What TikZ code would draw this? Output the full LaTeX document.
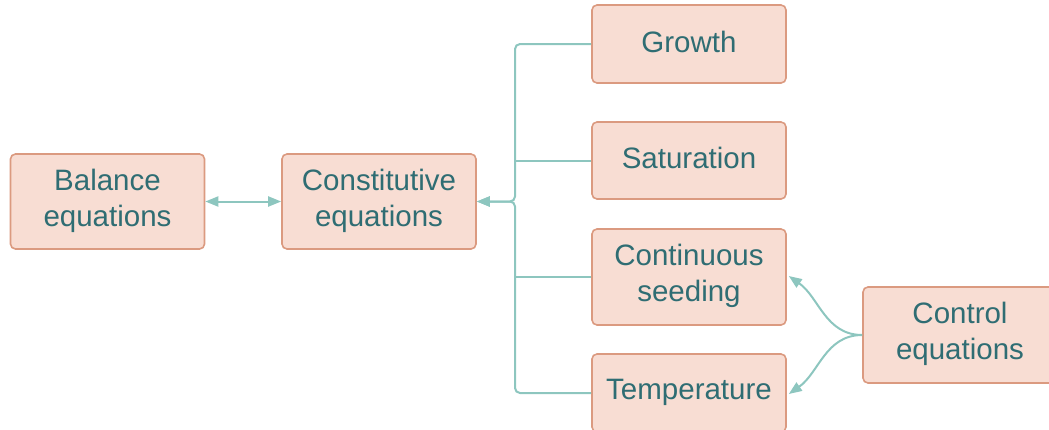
\documentclass[tikz,border=0pt]{standalone}
\usepackage{fontspec}
\setmainfont{Liberation Sans}
\usetikzlibrary{arrows.meta}
\definecolor{boxfill}{HTML}{F8DDD3}
\definecolor{boxline}{HTML}{DB9A80}
\definecolor{boxtext}{HTML}{2F6D73}
\definecolor{link}{HTML}{8DC6BF}
\tikzset{
  topic/.style={draw=boxline, fill=boxfill, line width=1.6pt, rounded corners=5pt,
    text=boxtext, align=center, minimum width=194pt, inner sep=0pt,
    font=\fontsize{29.5}{36}\selectfont},
  label/.style={text=boxtext, align=center, font=\fontsize{29.5}{36}\selectfont},
  link/.style={draw=link, line width=2pt},
  tip/.style={-{Triangle[length=13pt,width=10pt]}},
}
\begin{document}
\begin{tikzpicture}[x=1pt,y=-1pt]
\useasboundingbox (0,0) rectangle (1049,429);
\clip (0,0) rectangle (1049,429);
\node[topic, minimum height=95pt] (bal) at (107.5,201.5) {};
\node[label] at (107.5,201) {Balance\\equations};
\node[topic, minimum height=95pt] (con) at (379,201.5) {};
\node[label] at (379,201) {Constitutive\\equations};
\node[topic, minimum height=78pt] (gro) at (689,44) {};
\node[label] at (689,41.5) {Growth};
\node[topic, minimum height=77pt] (sat) at (689,160.5) {};
\node[label] at (689,158) {Saturation};
\node[topic, minimum height=96pt] (see) at (689,277) {};
\node[label] at (689,276) {Continuous\\seeding};
\node[topic, minimum height=78pt] (tem) at (689,393) {};
\node[label] at (689,392) {Temperature};
\node[topic, minimum height=96pt] (ctl) at (960,335) {};
\node[label] at (960,334) {Control\\equations};
\coordinate (j) at (515,201.5);
% double arrow between balance and constitutive equations
\draw[link, {Triangle[length=13pt,width=10pt]}-{Triangle[length=13pt,width=10pt]}] (bal.east) -- (con.west);
% tree joining the four factors into the constitutive equations
\draw[link, tip, rounded corners=5pt] (gro.west) -| (j) -- (con.east);
\draw[link, tip, rounded corners=5pt] (tem.west) -| (j) -- (con.east);
\draw[link] (sat.west) -- (sat.west -| j);
\draw[link] (see.west) -- (see.west -| j);
% control links
\draw[link, tip] (ctl.west) to[out=180, in=-35] ([xshift=2pt,yshift=1pt]see.east);
\draw[link, tip] (ctl.west) to[out=180, in=35] ([xshift=2pt,yshift=-1pt]tem.east);
\end{tikzpicture}
\end{document}
